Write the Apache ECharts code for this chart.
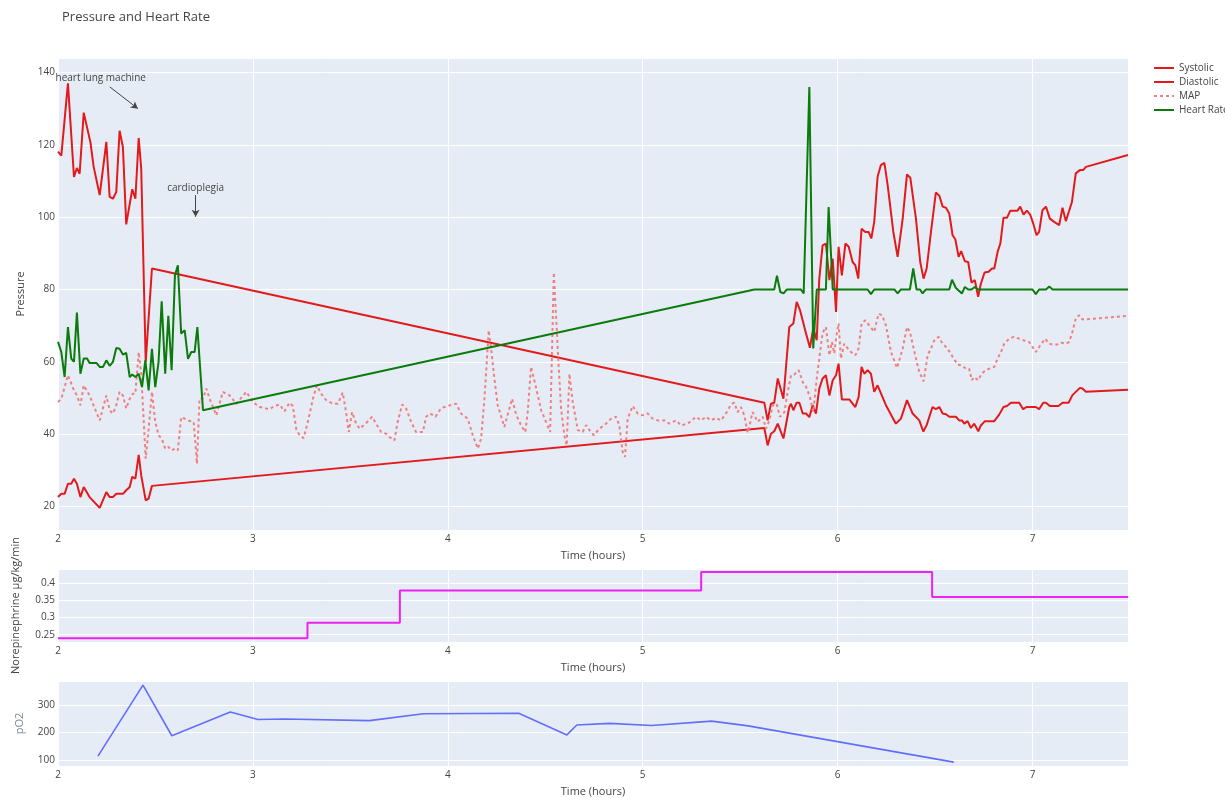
<!DOCTYPE html>
<html>
<head>
<meta charset="utf-8">
<script src="https://cdn.jsdelivr.net/npm/echarts@6/dist/echarts.min.js"></script>
<style>
html,body{margin:0;padding:0;background:#fff;}
#chart{width:1225px;height:798px;}
</style>
</head>
<body>
<div id="chart"></div>
<script>
// ---- data (hours, values) ----
const sysT = [2.0,2.017,2.051,2.082,2.097,2.111,2.132,2.166,2.183,2.214,2.248,2.265,2.282,2.299,2.316,2.333,2.35,2.381,2.397,2.414,2.427,2.45,2.482,
5.624,5.641,5.658,5.675,5.693,5.722,5.752,5.773,5.79,5.807,5.838,5.858,5.875,5.893,5.906,5.923,5.94,5.958,5.975,5.992,6.005,6.022,6.04,6.057,6.077,6.091,6.106,6.123,6.142,6.159,6.173,6.188,6.205,6.222,6.24,6.257,6.286,6.308,6.334,6.356,6.373,6.402,6.424,6.441,6.457,6.479,6.504,6.522,6.539,6.556,6.573,6.59,6.604,6.621,6.634,6.653,6.67,6.687,6.704,6.721,6.735,6.754,6.775,6.792,6.804,6.821,6.835,6.851,6.869,6.886,6.923,6.937,6.954,6.971,6.988,7.004,7.021,7.034,7.051,7.069,7.089,7.111,7.137,7.154,7.171,7.202,7.222,7.243,7.26,7.274,7.49];
const sysV = [118.1,117,137,111.1,113.6,112,128.9,120.8,113.9,106.1,120.8,105.6,105.1,107,123.9,119.4,98,107.7,105.1,121.9,113.4,60,85.8,
48.7,43.8,48.4,48.7,55.4,49.8,69.6,70.6,76.6,74.3,67.8,63.9,69.2,66,83,92.2,92.7,82.6,88.5,73.8,91.8,83.9,92.7,91.8,87.6,86.7,83,96.8,95.9,95.9,94.1,98.7,111.1,114.4,115,108.8,95.9,89,99.6,111.8,110.9,99.6,87.6,83,85.8,95.9,106.8,105.9,102.9,102.6,101,95,93.9,89,90.6,87.8,87.6,81.9,82.6,78,81.6,84.7,84.9,85.8,85.8,90.4,92.7,99.8,99.8,101.8,101.8,102.9,100.7,101.8,100.7,98.2,95,95.9,101.9,102.9,99.6,98.7,97.8,102.6,98.9,104.1,112.1,113,113,113.9,117.2];

const diaT = [2.0,2.017,2.034,2.051,2.068,2.082,2.097,2.115,2.132,2.162,2.214,2.248,2.265,2.282,2.299,2.333,2.35,2.368,2.381,2.397,2.414,2.427,2.45,2.465,2.482,
5.624,5.641,5.658,5.675,5.693,5.722,5.752,5.761,5.773,5.79,5.804,5.821,5.838,5.855,5.872,5.889,5.906,5.923,5.94,5.958,5.975,5.992,6.005,6.022,6.06,6.091,6.108,6.123,6.137,6.154,6.171,6.188,6.205,6.248,6.299,6.325,6.356,6.385,6.419,6.44,6.457,6.487,6.504,6.522,6.539,6.556,6.573,6.607,6.624,6.638,6.65,6.667,6.684,6.701,6.722,6.735,6.756,6.804,6.829,6.851,6.869,6.889,6.932,6.952,6.969,7.017,7.034,7.055,7.069,7.089,7.133,7.154,7.185,7.205,7.243,7.256,7.274,7.49];
const diaV = [22.6,23.5,23.5,26.3,26.3,27.7,26.3,22.6,25.4,22.6,19.6,24,22.6,22.6,23.5,23.5,24.5,25.4,28.2,27.7,34.3,28.6,21.7,22.2,25.7,
41.7,36.9,40.1,40.8,42.9,38.8,47.5,48.4,46.6,48.7,48.7,45.7,45.7,44.7,48,45.7,52.6,55.4,56.3,50.7,54.9,56.3,59.5,49.6,49.6,47.5,50.3,58.6,56.7,57.7,56.7,51.7,53.5,48,42.9,44.3,49.4,45.7,43.8,40.7,42.5,47.5,46.9,47.5,45.7,45.5,44.8,44.8,43.8,43.8,42.9,43.6,41.7,42.9,40.8,42.4,43.6,43.6,45.4,47.5,47.8,48.7,48.7,46.9,47.5,47.5,46.9,48.7,48.7,47.8,47.8,48.7,48.7,50.8,52.8,52.6,51.7,52.3];

const mapT = [2.0,2.017,2.034,2.051,2.068,2.082,2.097,2.115,2.132,2.162,2.214,2.248,2.265,2.282,2.299,2.316,2.333,2.35,2.368,2.385,2.397,2.414,2.427,2.45,2.465,2.482,2.499,2.516,2.532,2.55,2.566,2.583,2.6,2.615,2.632,2.65,2.667,2.696,2.713,2.726,2.744,2.761,2.778,2.795,2.812,2.846,2.88,2.915,2.966,3.0,
3.034,3.06,3.085,3.111,3.137,3.162,3.188,3.205,3.222,3.239,3.26,3.282,3.308,3.328,3.35,3.376,3.41,3.436,3.461,3.478,3.492,3.509,3.526,3.547,3.578,3.612,3.632,3.658,3.684,3.701,3.726,3.743,3.766,3.786,3.812,3.837,3.872,3.889,3.909,3.937,3.966,4.0,4.043,4.068,4.102,4.128,4.154,4.171,4.188,4.2,4.21,4.222,4.239,4.256,4.29,4.33,4.35,4.376,4.398,4.41,4.427,4.45,4.479,4.504,4.525,4.544,4.564,4.581,4.598,4.61,4.624,4.641,4.667,4.692,4.71,4.727,4.749,4.778,4.812,4.838,4.863,4.88,4.897,4.909,4.923,4.949,4.974,5.0,5.026,5.051,5.077,5.111,5.137,5.171,5.197,5.231,5.274,5.299,5.325,5.35,5.376,5.402,5.427,5.453,5.47,5.487,5.504,5.521,5.539,5.564,5.59,5.616,5.633,5.65,5.667,5.687,5.704,5.727,5.744,5.761,5.778,5.8,5.821,5.838,5.858,5.875,5.893,5.91,5.923,5.94,5.958,5.971,5.983,5.992,6.005,6.017,6.034,6.052,6.069,6.091,6.108,6.123,6.142,6.162,6.188,6.21,6.228,6.248,6.274,6.305,6.334,6.356,6.371,6.398,6.419,6.441,6.462,6.479,6.496,6.518,6.539,6.564,6.59,6.616,6.638,6.658,6.675,6.689,6.701,6.721,6.739,6.761,6.787,6.804,6.821,6.838,6.855,6.881,6.903,6.932,6.957,6.983,7.0,7.017,7.034,7.065,7.086,7.103,7.128,7.146,7.171,7.188,7.205,7.222,7.24,7.256,7.49];
const mapV = [48.9,49.8,53,56.3,54,52.1,50.7,48,53.5,50.7,43.8,50.7,46.6,45.7,48,51.7,50.7,47.1,49.8,51.2,51.2,62.7,56.7,33.2,41.5,51.7,43.4,39.7,38.8,36,36.5,35.5,36,35.5,44.7,44.3,43.8,43.4,31.8,49.8,49.8,52.6,49.8,47.5,45.2,51.7,50.7,48.4,51.7,48.9,
47.5,47.2,46.9,47.8,48.2,46.3,48.7,47.8,41.5,39.7,38.9,43.4,49.8,53.5,51.2,49.4,48.4,48.4,51.5,46.1,40.6,46.1,43.4,41.5,42.9,44.8,42.9,40.6,40.1,39.2,38.3,43.4,48.2,47.1,43.4,40.6,40.6,44.8,45.7,44.8,47.2,47.8,48.4,45.7,44.3,39.7,36,38.8,49.8,60,68.7,63.7,55.4,48,42,49.8,45.5,42.4,40.6,46.1,58.6,53.5,46.6,43.4,40.6,84.7,63.7,47.1,39.7,36.9,56.7,48.9,41.1,40.6,42.5,41.1,39.7,41.5,42.9,44.3,44.8,42.5,35.1,33.7,44.3,47.8,45.7,45.2,45.7,44.3,43.8,43.8,42.9,43.8,42.4,42.9,44.8,43.8,44.8,43.8,44.5,43.8,45.7,48.2,48.7,46.1,47.5,45.2,40.4,46.1,43.4,44.8,41.5,43.8,48,48.4,44.8,46.1,51.7,56.3,56.5,57.7,54.4,53.1,50.3,46.1,55.4,62.7,68,69.6,61.8,65.5,62.3,66.4,70.6,60.9,65,63.7,62.7,61.8,63.7,70.6,71.5,70.1,68.3,73.3,72.9,70.1,62.7,58.3,63.7,69.6,68.3,61.8,57.2,54.6,61.8,63.7,65.9,66.9,65,63.7,61.4,59.2,59,58.1,58.1,54.9,55.8,54.9,56.7,57.7,58.3,58.6,60.9,62.7,65,66.4,66.9,66.4,65.9,65.5,64.1,62.7,64.1,66.4,65,64.8,64.8,65.3,65,65.5,68.3,72,72.9,71.7,72.7];

const hrT = [2.0,2.017,2.034,2.051,2.068,2.082,2.097,2.115,2.132,2.149,2.162,2.197,2.214,2.231,2.248,2.265,2.282,2.299,2.316,2.333,2.35,2.368,2.381,2.397,2.414,2.431,2.448,2.465,2.482,2.499,2.516,2.532,2.55,2.566,2.583,2.6,2.615,2.632,2.65,2.667,2.684,2.701,2.715,2.744,
5.573,5.675,5.689,5.706,5.723,5.74,5.812,5.826,5.855,5.875,5.893,5.94,5.954,5.975,6.154,6.171,6.188,6.291,6.308,6.325,6.371,6.388,6.405,6.423,6.436,6.453,6.573,6.587,6.607,6.638,6.653,6.67,6.687,6.704,6.721,7.0,7.017,7.034,7.069,7.086,7.103,7.49];
const hrV = [65.5,62.7,55.8,69.6,60.9,60,73.6,56.7,60.9,60.9,59.7,59.7,58.6,58.6,60.4,58.9,60,63.8,63.6,62,62.5,55.8,56.5,55.8,56.7,53,60.4,52.1,63.6,53,60,76.7,56.7,72.7,57.7,83.9,86.7,67.8,68.7,60.8,62.7,62.7,69.6,46.6,
80,80,83.8,79.3,78.9,80,80,78.9,136,63.7,80,80,102.8,80,80,78.7,80,80,78.9,80,80,85.8,80,80,78.9,80,80,82.7,80.4,78.9,80.7,80,80,80.7,80,80,78.7,80,80,80.8,80,80];

const neT = [2.0,3.28,3.754,5.30,6.485,7.49];
const neV = [0.240,0.285,0.378,0.431,0.359,0.359];

const po2T = [2.205,2.436,2.584,2.884,3.026,3.16,3.598,3.875,4.364,4.611,4.662,4.83,5.046,5.354,5.541,6.596];
const po2V = [114,372,188,274,247,249,243,268,270,191,227,233,225,241,224,92];

const annotText = ['heart lung machine','cardioplegia'];
const annotLabelAt = [[2.219,138.3],[2.706,107.9]];
const annotArrowFrom = [[2.266,136.0],[2.706,106.1]];
const annotArrowTo = [[2.41,130.0],[2.706,100.1]];

// ---- chart ----
const pairs = (t, v) => t.map((x, i) => [x, v[i]]);
const FONT = '"Open Sans", "Liberation Sans", sans-serif';
const TXT = '#444';
const RED = '#e31a1c';
const GREEN = '#0b7b0b';

const gridLeft = 58, gridWidth = 1070;
const xCommon = (idx) => ({
  type: 'value', gridIndex: idx, min: 2, max: 7.49, interval: 1,
  name: 'Time (hours)', nameLocation: 'middle', nameGap: 20, nameMoveOverlap: false,
  nameTextStyle: { color: TXT, fontSize: 11, fontFamily: FONT },
  axisLine: { show: false }, axisTick: { show: false },
  axisLabel: { color: TXT, fontSize: 10, fontFamily: FONT, margin: 4, showMaxLabel: false },
  splitLine: { show: true, lineStyle: { color: '#ffffff', width: 1 } }
});
const yCommon = (idx, o) => Object.assign({
  type: 'value', gridIndex: idx, nameLocation: 'middle', nameMoveOverlap: false,
  axisLine: { show: false }, axisTick: { show: false },
  axisLabel: { color: TXT, fontSize: 10, fontFamily: FONT, margin: 3, showMinLabel: false, showMaxLabel: false },
  splitLine: { show: true, lineStyle: { color: '#ffffff', width: 1 } }
}, o);

const chart = echarts.init(document.getElementById('chart'), null, { renderer: 'canvas' });
chart.setOption({
  animation: false,
  backgroundColor: '#ffffff',
  textStyle: { fontFamily: FONT },
  title: {
    text: 'Pressure and Heart Rate', left: 62, top: 11, padding: 0,
    textStyle: { color: TXT, fontSize: 13, fontWeight: 'normal', fontFamily: FONT }
  },
  legend: {
    data: ['Systolic', 'Diastolic', 'MAP', 'Heart Rate'],
    orient: 'vertical', left: 1153, top: 63, padding: 0,
    itemWidth: 20, itemHeight: 8, itemGap: 4,
    itemStyle: { opacity: 0 },
    textStyle: { color: TXT, fontSize: 10, fontFamily: FONT }
  },
  grid: [
    { left: gridLeft, width: gridWidth, top: 58, height: 472, show: true, backgroundColor: '#e5ecf6', borderWidth: 0 },
    { left: gridLeft, width: gridWidth, top: 569, height: 73, show: true, backgroundColor: '#e5ecf6', borderWidth: 0 },
    { left: gridLeft, width: gridWidth, top: 681, height: 85, show: true, backgroundColor: '#e5ecf6', borderWidth: 0 }
  ],
  xAxis: [xCommon(0), xCommon(1), xCommon(2)],
  yAxis: [
    yCommon(0, { min: 13.5, max: 144, minInterval: 20, maxInterval: 20, splitNumber: 6, name: 'Pressure', nameGap: 32,
      nameTextStyle: { color: TXT, fontSize: 11, fontFamily: FONT } }),
    yCommon(1, { min: 0.229, max: 0.44, minInterval: 0.05, maxInterval: 0.05, splitNumber: 4, name: 'Norepinephrine µg/kg/min', nameGap: 37,
      nameTextStyle: { color: TXT, fontSize: 11, fontFamily: FONT } }),
    yCommon(2, { min: 78, max: 387, minInterval: 100, maxInterval: 100, splitNumber: 3, name: 'pO2', nameGap: 33,
      nameTextStyle: { color: '#7a869a', fontSize: 11, fontFamily: FONT } })
  ],
  series: [
    {
      name: 'Systolic', type: 'line', xAxisIndex: 0, yAxisIndex: 0, symbol: 'none',
      data: pairs(sysT, sysV),
      lineStyle: { color: RED, width: 2 }, itemStyle: { color: RED },
      markLine: {
        silent: true, symbol: ['none', 'arrow'], symbolSize: [6, 7],
        label: { show: false },
        lineStyle: { color: TXT, width: 1, type: 'solid' },
        data: annotArrowFrom.map((p, i) => [{ coord: p }, { coord: annotArrowTo[i] }])
      },
      markPoint: {
        silent: true, symbol: 'rect', symbolSize: 1,
        itemStyle: { color: 'rgba(0,0,0,0)' },
        label: { show: true, position: 'inside', formatter: '{b}', color: TXT, fontSize: 10, fontFamily: FONT },
        data: annotText.map((t, i) => ({ name: t, coord: annotLabelAt[i] }))
      }
    },
    {
      name: 'Diastolic', type: 'line', xAxisIndex: 0, yAxisIndex: 0, symbol: 'none',
      data: pairs(diaT, diaV),
      lineStyle: { color: RED, width: 2 }, itemStyle: { color: RED }
    },
    {
      name: 'MAP', type: 'line', xAxisIndex: 0, yAxisIndex: 0, symbol: 'none',
      data: pairs(mapT, mapV),
      lineStyle: { color: '#f08080', width: 2, type: [3, 3] }, itemStyle: { color: '#f08080' }
    },
    {
      name: 'Heart Rate', type: 'line', xAxisIndex: 0, yAxisIndex: 0, symbol: 'none',
      data: pairs(hrT, hrV),
      lineStyle: { color: GREEN, width: 2 }, itemStyle: { color: GREEN }
    },
    {
      name: 'Norepinephrine', type: 'line', xAxisIndex: 1, yAxisIndex: 1, symbol: 'none', step: 'end',
      data: pairs(neT, neV),
      lineStyle: { color: '#ee22ee', width: 2 }, itemStyle: { color: '#ee22ee' }
    },
    {
      name: 'pO2', type: 'line', xAxisIndex: 2, yAxisIndex: 2, symbol: 'none',
      data: pairs(po2T, po2V),
      lineStyle: { color: '#636efa', width: 1.6 }, itemStyle: { color: '#636efa' }
    }
  ]
});
</script>
</body>
</html>
